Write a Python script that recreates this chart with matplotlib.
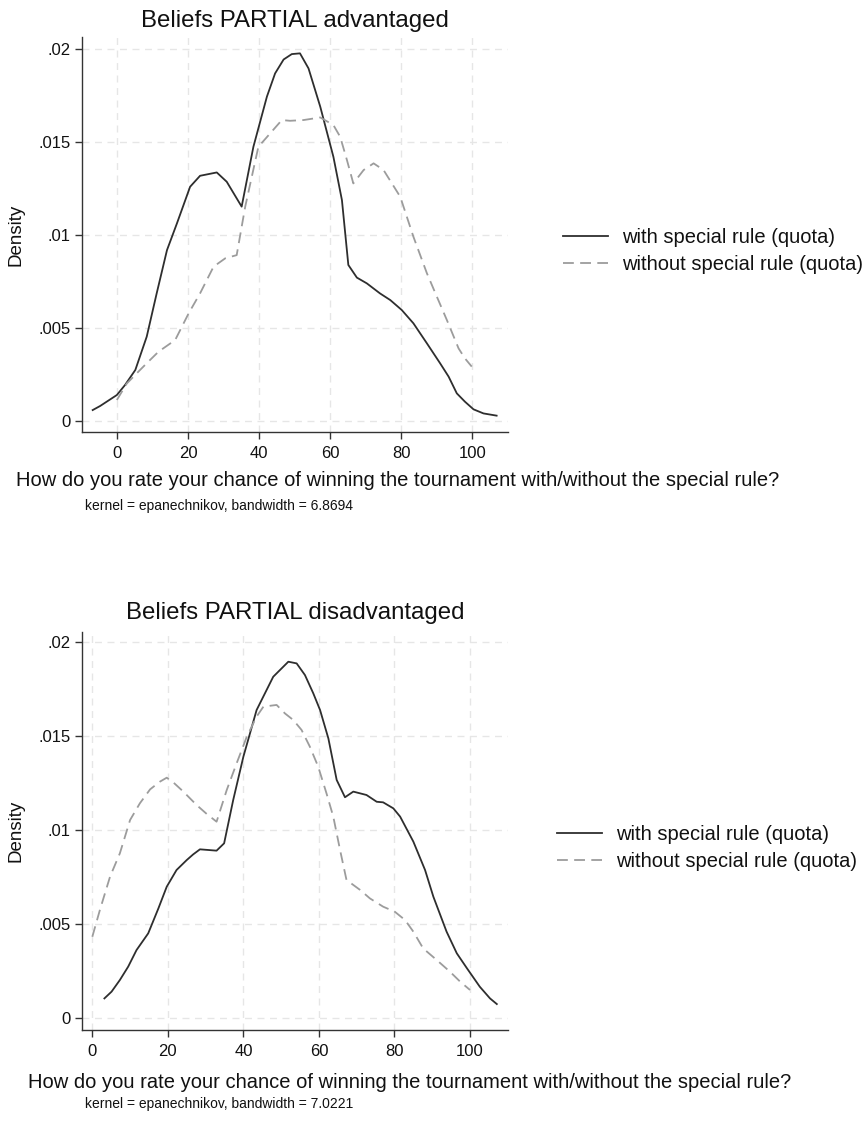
import matplotlib
matplotlib.use("Agg")
import matplotlib.pyplot as plt

plt.rcParams['font.family'] = ['Liberation Sans', 'DejaVu Sans']

# ---- data: top panel (advantaged) ----
adv_with_x = [-6.8, -4.7, 0, 2.3, 5.2, 8.4, 11.2, 14.1, 16.9, 20.6, 23.4, 28.1, 30.9, 35.1,
              38.4, 42.2, 44.5, 46.9, 49.2, 51.5, 53.9, 57.2, 60.9, 63.3, 65.1, 67.5, 70.3,
              74.0, 76.9, 80.1, 83.4, 87.2, 90.9, 93.3, 95.6, 97.9, 100.3, 103.1, 106.8]
adv_with_y = [0.00057, 0.00079, 0.00138, 0.00192, 0.00273, 0.00452, 0.00685, 0.00918, 0.01062,
              0.01259, 0.01318, 0.01336, 0.01286, 0.01152, 0.01474, 0.01744, 0.01869, 0.01944,
              0.01973, 0.01977, 0.01896, 0.0169, 0.0142, 0.01187, 0.00838, 0.0077, 0.00739,
              0.00685, 0.00649, 0.00596, 0.00524, 0.00416, 0.00309, 0.00237, 0.00147, 0.00102,
              0.00061, 0.00039, 0.00027]
adv_without_x = [0, 2.8, 5.6, 8.4, 11.7, 16.4, 20.2, 23.4, 27.2, 30.5, 33.7, 36.1, 39.8, 43.1,
                 46.4, 48.7, 52.5, 57.2, 60.9, 62.8, 64.7, 66.5, 69.4, 72.2, 75.0, 79.7, 83.4,
                 87.2, 90.0, 92.8, 96.1, 97.9, 99.8]
adv_without_y = [0.00111, 0.002, 0.00255, 0.00309, 0.00371, 0.00434, 0.00578, 0.00685, 0.00829,
                 0.00874, 0.00891, 0.01152, 0.01474, 0.01546, 0.01618, 0.01614, 0.01618, 0.01632,
                 0.01591, 0.01528, 0.01403, 0.01277, 0.01349, 0.01385, 0.01349, 0.01205, 0.0099,
                 0.00793, 0.00667, 0.00542, 0.00389, 0.00335, 0.00291]

# ---- data: bottom panel (disadvantaged) ----
dis_with_x = [3.2, 5.1, 7.3, 9.5, 11.7, 14.8, 17.5, 19.7, 22.3, 25.0, 26.7, 28.5, 32.9, 34.9,
              37.3, 40.0, 43.5, 47.9, 51.9, 54.1, 56.3, 58.5, 60.3, 62.5, 64.7, 66.9, 69.1,
              72.6, 75.3, 77.0, 79.7, 81.5, 85.0, 88.1, 90.3, 93.8, 96.5, 99.2, 102.6, 105.3, 107.1]
dis_with_y = [0.00106, 0.00142, 0.00204, 0.00275, 0.00363, 0.00452, 0.00585, 0.007, 0.00789,
              0.00842, 0.00872, 0.00899, 0.00892, 0.00931, 0.01161, 0.01392, 0.0164, 0.01817,
              0.01897, 0.01888, 0.01826, 0.01729, 0.0164, 0.01489, 0.01268, 0.01176, 0.01206,
              0.01188, 0.01152, 0.01149, 0.01117, 0.01073, 0.0094, 0.00789, 0.00647, 0.00461,
              0.00346, 0.00266, 0.00168, 0.00106, 0.00076]
dis_without_x = [0, 2.0, 4.7, 7.3, 10.0, 12.6, 15.3, 17.9, 19.7, 21.5, 24.1, 27.6, 30.3, 32.9,
                 35.6, 38.2, 40.9, 43.5, 45.3, 48.8, 51.0, 53.2, 55.4, 57.6, 59.8, 62.0, 63.8,
                 65.6, 67.3, 70.9, 73.5, 77.0, 80.1, 82.8, 85.0, 87.6, 91.2, 94.7, 97.4, 100]
dis_without_y = [0.00434, 0.00576, 0.00754, 0.00878, 0.01055, 0.01144, 0.01218, 0.01259, 0.0128,
                 0.01254, 0.01206, 0.01135, 0.01087, 0.01046, 0.01215, 0.01356, 0.01498, 0.01605,
                 0.01658, 0.01667, 0.01622, 0.01587, 0.01534, 0.01445, 0.01339, 0.01197, 0.01073,
                 0.00895, 0.00736, 0.00683, 0.00638, 0.00594, 0.00567, 0.00523, 0.00461, 0.00372,
                 0.0031, 0.00248, 0.00195, 0.00151]

titles = ["Beliefs PARTIAL advantaged", "Beliefs PARTIAL disadvantaged"]
series_labels = ["with special rule (quota)", "without special rule (quota)"]
x_ticks = [0, 20, 40, 60, 80, 100]
y_ticks = [0, 0.005, 0.01, 0.015, 0.02]
y_ticklabels = ["0", ".005", ".01", ".015", ".02"]
xlabel = "How do you rate your chance of winning the tournament with/without the special rule?"
notes = ["kernel = epanechnikov, bandwidth = 6.8694", "kernel = epanechnikov, bandwidth = 7.0221"]

W, H = 866, 1144
fig = plt.figure(figsize=(W / 100, H / 100), dpi=100)
fig.patch.set_facecolor('white')

def fx(px):
    return px / W

def fy(py):
    return 1 - py / H

panels = [
    dict(box=(82, 37, 508, 432), xlim=(-9.8, 110.0), ylim=(-0.00061, 0.02065),
         data=[(adv_with_x, adv_with_y), (adv_without_x, adv_without_y)],
         title_y=21, xlabel_y=480, xlabel_x=398, note_y=506, note_x=85,
         leg=(563, 251)),
    dict(box=(82, 632, 508, 1030), xlim=(-2.73, 110.06), ylim=(-0.00062, 0.02055),
         data=[(dis_with_x, dis_with_y), (dis_without_x, dis_without_y)],
         title_y=613, xlabel_y=1083, xlabel_x=410, note_y=1104, note_x=85,
         leg=(557, 848)),
]

for i, p in enumerate(panels):
    l, t, r, b = p['box']
    ax = fig.add_axes([fx(l), fy(b), fx(r - l), (b - t) / H])
    ax.set_xlim(*p['xlim'])
    ax.set_ylim(*p['ylim'])
    (wx, wy), (ox, oy) = p['data']
    ax.plot(wx, wy, color='#2e2e2e', lw=1.3, label=series_labels[0], solid_joinstyle='round')
    ax.plot(ox, oy, color='#9c9c9c', lw=1.3, dashes=(6, 3.5), label=series_labels[1])
    ax.set_xticks(x_ticks)
    ax.set_yticks(y_ticks)
    ax.set_yticklabels(y_ticklabels)
    ax.tick_params(axis='both', direction='out', length=5, width=1, color='#333333',
                   labelsize=12, labelcolor='#111111')
    ax.tick_params(axis='x', pad=5)
    ax.tick_params(axis='y', pad=3)
    ax.grid(True, color='#e6e6e6', lw=1, ls=(0, (5, 4)))
    ax.set_axisbelow(True)
    for s in ['top', 'right']:
        ax.spines[s].set_visible(False)
    for s in ['left', 'bottom']:
        ax.spines[s].set_color('#333333')
        ax.spines[s].set_linewidth(1)
    ax.set_ylabel("Density", fontsize=13.5, color='#111111', labelpad=10)
    fig.text(fx((l + r) / 2), fy(p['title_y']), titles[i], ha='center', va='center',
             fontsize=17.3, color='#111111')
    fig.text(fx(p['xlabel_x']), fy(p['xlabel_y']), xlabel, ha='center', va='center',
             fontsize=14.5, color='#111111')
    fig.text(fx(p['note_x']), fy(p['note_y']), notes[i], ha='left', va='center',
             fontsize=10, color='#111111')
    lx, ly = p['leg']
    ax.legend(loc='center left', bbox_to_anchor=(fx(lx), fy(ly)), bbox_transform=fig.transFigure,
              frameon=False, fontsize=14.5, handlelength=2.25, handletextpad=0.7,
              borderpad=0, borderaxespad=0, labelspacing=0.38, labelcolor='#111111')

fig.savefig("out.png", dpi=100, facecolor='white')
